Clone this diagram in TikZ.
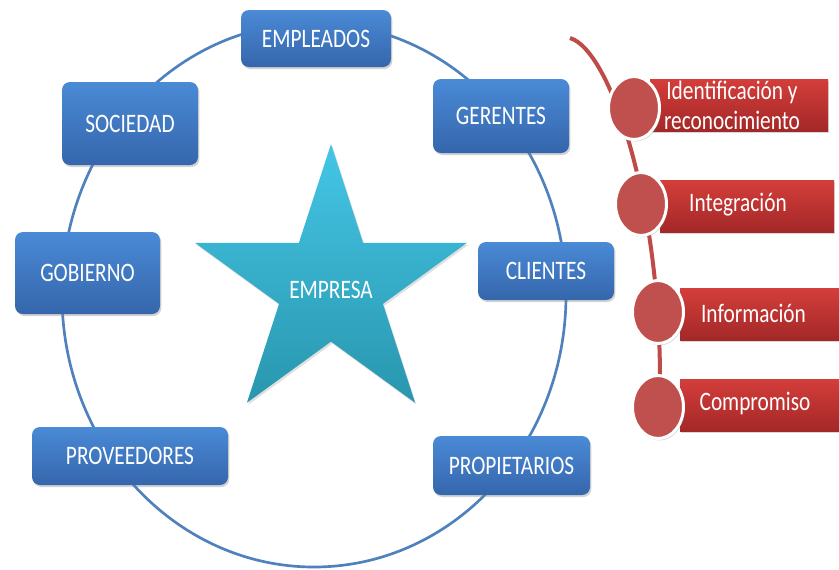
\documentclass[tikz,border=0pt]{standalone}
\usepackage{fontspec}
\setmainfont{Carlito}[FakeStretch=0.8]
\usetikzlibrary{shadows,shapes.geometric}
\definecolor{boxtop}{HTML}{4A8AD6}
\definecolor{boxbot}{HTML}{3566AC}
\definecolor{startop}{HTML}{44C6E6}
\definecolor{starbot}{HTML}{2996AE}
\definecolor{bartop}{HTML}{D43E3A}
\definecolor{barbot}{HTML}{A32828}
\definecolor{dotred}{HTML}{C0504D}
\definecolor{curvered}{HTML}{BE4B48}
\definecolor{ringblue}{HTML}{4F81BD}
\begin{document}
\begin{tikzpicture}[x=0.75pt,y=-0.75pt,
  font=\fontsize{20}{22.5}\selectfont,
  bluebox/.style={rounded corners=6pt, top color=boxtop, bottom color=boxbot,
    text=white, inner sep=0pt,
    drop shadow={opacity=0.35, shadow xshift=1pt, shadow yshift=-1.5pt}},
  redbar/.style={top color=bartop, bottom color=barbot, inner sep=0pt,
    minimum height=39pt,
    drop shadow={opacity=0.3, shadow xshift=1pt, shadow yshift=-1.5pt}},
  reddot/.style={ellipse, fill=dotred, draw=white, line width=2.25pt,
    minimum width=38.25pt, minimum height=47.25pt, inner sep=0pt,
    drop shadow={opacity=0.3, shadow xshift=1pt, shadow yshift=-1.5pt}},
  bartext/.style={text=white, align=center, inner sep=0pt},
  ring/.style={draw=ringblue, line width=2pt},
  redcurve/.style={draw=curvered, line width=3pt}
]
\useasboundingbox[fill=white] (0,0) rectangle (839,569);

% ring
\draw[ring] (314,295) ellipse [x radius=252, y radius=272];

% star
\coordinate (sc) at (331,287);
\begin{scope}[shift={(sc)}]
\shade[top color=startop, bottom color=starbot,
  drop shadow={opacity=0.25, shadow xshift=1pt, shadow yshift=-1.5pt}]
  (-90:143) -- (-54:54.6) -- (-18:143) -- (18:54.6) -- (54:143) -- (90:54.6)
  -- (126:143) -- (162:54.6) -- (198:143) -- (234:54.6) -- cycle;
\end{scope}
\node[text=white, inner sep=0pt] (empresa) at (331,290) {EMPRESA};

% blue boxes
\node[bluebox, minimum width=112.5pt, minimum height=42.75pt] (empleados) at (316,38.5) {EMPLEADOS};
\node[bluebox, minimum width=102pt, minimum height=62.25pt] (sociedad) at (130,123.5) {SOCIEDAD};
\node[bluebox, minimum width=108.75pt, minimum height=61.5pt] (gobierno) at (87.5,273) {GOBIERNO};
\node[bluebox, minimum width=147pt, minimum height=43.5pt] (proveedores) at (130,456) {PROVEEDORES};
\node[bluebox, minimum width=102pt, minimum height=55.5pt] (gerentes) at (501,116) {GERENTES};
\node[bluebox, minimum width=102pt, minimum height=43.5pt] (clientes) at (546,271) {CLIENTES};
\node[bluebox, minimum width=117.75pt, minimum height=44.25pt] (propietarios) at (511.5,465.5) {PROPIETARIOS};

% red curve
\coordinate (rs) at (570,38);
\coordinate (re) at (660,380);
\draw[redcurve] (rs) .. controls (610,50) and (660,200) .. (re);

% red bars
\node[redbar, minimum width=133.5pt] (b1) at (739,105) {};
\node[redbar, minimum width=130.5pt] (b2) at (747,206) {};
\node[redbar, minimum width=119.25pt] (b3) at (759.5,314) {};
\node[redbar, minimum width=119.25pt] (b4) at (759.5,405) {};

% dots
\node[reddot] (d1) at (634,108) {};
\node[reddot] (d2) at (641,204) {};
\node[reddot] (d3) at (658,312) {};
\node[reddot] (d4) at (658,407) {};

% bar texts
\node[bartext] (t1) at (732,105) {Identificación y\\reconocimiento};
\node[bartext] (t2) at (738,205) {Integración};
\node[bartext] (t3) at (753.5,313) {Información};
\node[bartext] (t4) at (755,403) {Compromiso};
\end{tikzpicture}
\end{document}
